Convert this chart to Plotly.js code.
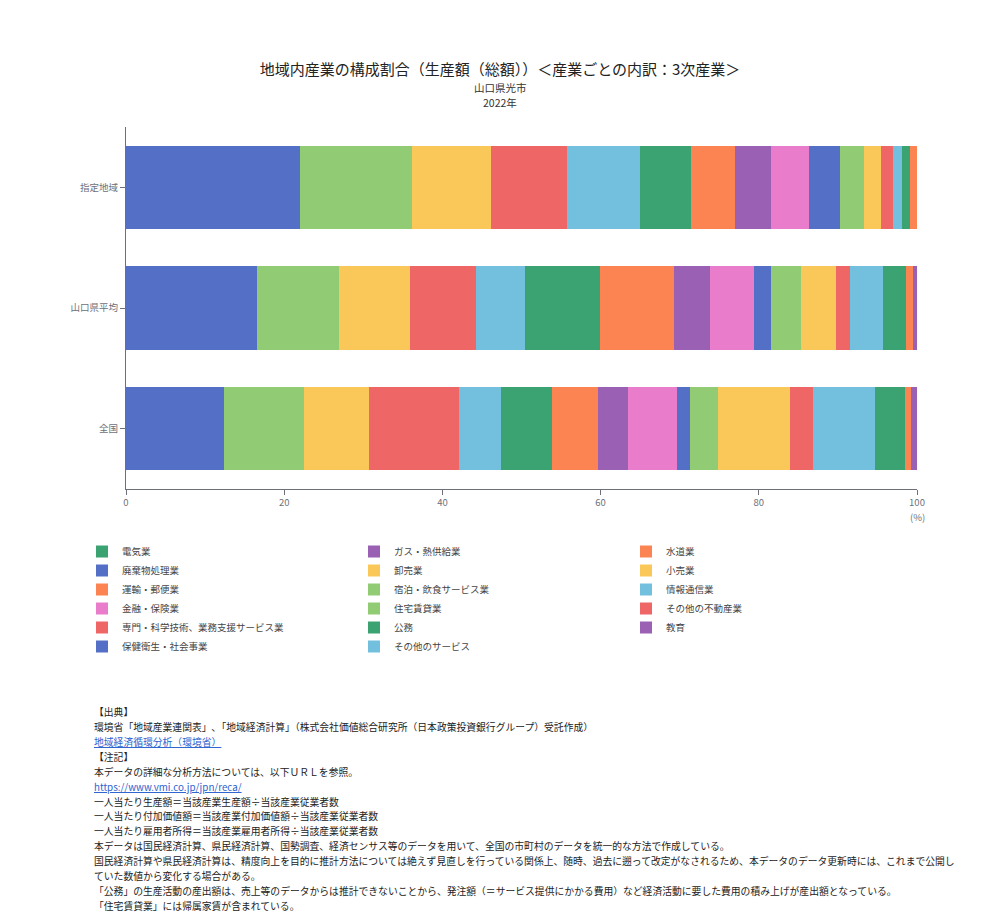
<!DOCTYPE html>
<html>
<head>
<meta charset="utf-8">
<script src="https://cdn.plot.ly/plotly-3.0.1.min.js"></script>
<style>html,body{margin:0;padding:0;background:#fff;}#chart{width:1000px;height:919px;}</style>
</head>
<body>
<div id="chart"></div>
<script>
// ---- data ----
const regions = ['指定地域', '山口県平均', '全国'];
// stacking order (left to right)
const industries = [
  '保健衛生・社会事業', '住宅賃貸業', '小売業', '専門・科学技術、業務支援サービス業',
  'その他のサービス', '公務', '運輸・郵便業', '教育', '金融・保険業', '廃棄物処理業',
  '宿泊・飲食サービス業', '卸売業', 'その他の不動産業', '情報通信業', '電気業', '水道業',
  'ガス・熱供給業'
];
// legend order
const legendOrder = [
  '電気業', 'ガス・熱供給業', '水道業', '廃棄物処理業', '卸売業', '小売業',
  '運輸・郵便業', '宿泊・飲食サービス業', '情報通信業', '金融・保険業', '住宅賃貸業',
  'その他の不動産業', '専門・科学技術、業務支援サービス業', '公務', '教育',
  '保健衛生・社会事業', 'その他のサービス'
];
// percent values, per industry in stacking order
const shiteiValues    = [21.96, 14.16, 9.99, 9.64, 9.23, 6.45, 5.52, 4.63, 4.77, 3.88, 3.07, 2.15, 1.55, 1.14, 0.94, 0.92, 0.00];
const yamaguchiValues = [16.60, 10.29, 8.98, 8.38, 6.19, 9.48, 9.32, 4.59, 5.60, 2.11, 3.83, 4.35, 1.77, 4.17, 2.91, 0.89, 0.54];
const zenkokuValues   = [12.35, 10.12, 8.21, 11.46, 5.23, 6.52, 5.78, 3.76, 6.27, 1.56, 3.54, 9.18, 2.87, 7.84, 3.83, 0.68, 0.80];
const xTicks = [0, 20, 40, 60, 80, 100];

const titleText = '地域内産業の構成割合（生産額（総額））＜産業ごとの内訳：3次産業＞';
const subtitleLines = ['山口県光市', '2022年'];
const noteLines = [
  '【出典】',
  '環境省「地域産業連関表」､「地域経済計算」（株式会社価値総合研究所（日本政策投資銀行グループ）受託作成）',
  '<a href="https://www.env.go.jp/policy/circulation/"><span style="color:#2b63d0"><u>地域経済循環分析（環境省）</u></span></a>',
  '【注記】',
  '本データの詳細な分析方法については、以下ＵＲＬを参照。',
  '<a href="https://www.vmi.co.jp/jpn/reca/"><span style="color:#2b63d0"><u>https://www.vmi.co.jp/jpn/reca/</u></span></a>',
  '一人当たり生産額＝当該産業生産額÷当該産業従業者数',
  '一人当たり付加価値額＝当該産業付加価値額÷当該産業従業者数',
  '一人当たり雇用者所得＝当該産業雇用者所得÷当該産業従業者数',
  '本データは国民経済計算、県民経済計算、国勢調査、経済センサス等のデータを用いて、全国の市町村のデータを統一的な方法で作成している。',
  '国民経済計算や県民経済計算は、精度向上を目的に推計方法については絶えず見直しを行っている関係上、随時、過去に遡って改定がなされるため、本データのデータ更新時には、これまで公開し',
  'ていた数値から変化する場合がある。',
  '「公務」の生産活動の産出額は、売上等のデータからは推計できないことから、発注額（＝サービス提供にかかる費用）など経済活動に要した費用の積み上げが産出額となっている。',
  '「住宅賃貸業」には帰属家賃が含まれている。'
];

// ---- style ----
const palette = ['#5470c6', '#91cc75', '#fac858', '#ee6666', '#73c0de', '#3ba272', '#fc8452', '#9a60b4', '#ea7ccc'];
const FONT = '"Noto Sans CJK JP", "Noto Sans", sans-serif';
const axisColor = '#6e7079';

const W = 1000, H = 919;
const M = {l: 126, r: 83, t: 127, b: 430};
const plotH = H - M.t - M.b;
const plotW = W - M.l - M.r;
const pyFromPx = px => (H - M.b - px) / plotH;
const pxToPaperX = px => (px - M.l) / plotW;

const traces = industries.map((name, i) => ({
  type: 'bar',
  orientation: 'h',
  name: name,
  y: regions,
  x: [shiteiValues[i], yamaguchiValues[i], zenkokuValues[i]],
  marker: {color: palette[i % palette.length], line: {width: 0}},
  legendrank: legendOrder.indexOf(name) + 1,
  hoverinfo: 'skip'
}));

const annotations = [];
subtitleLines.forEach((t, i) => {
  annotations.push({
    text: t, xref: 'paper', yref: 'paper', x: pxToPaperX(500), y: pyFromPx(87 + i * 15),
    xanchor: 'center', yanchor: 'middle', showarrow: false,
    font: {family: FONT, size: 10.5, color: '#333'}
  });
});
annotations.push({
  text: '(%)', xref: 'x', yref: 'paper', x: 100, y: pyFromPx(517),
  xanchor: 'center', yanchor: 'middle', showarrow: false,
  font: {family: FONT, size: 9.5, color: axisColor}
});
noteLines.forEach((t, i) => {
  annotations.push({
    text: t, xref: 'paper', yref: 'paper', x: pxToPaperX(92), y: pyFromPx(712 + i * 14.92),
    xanchor: 'left', yanchor: 'middle', showarrow: false, align: 'left',
    font: {family: FONT, size: 9.8, color: '#222'}
  });
});

const layout = {
  width: W, height: H,
  margin: M,
  paper_bgcolor: '#fff', plot_bgcolor: '#fff',
  font: {family: FONT, color: '#333'},
  title: {
    text: titleText, xref: 'container', yref: 'container', x: 0.5, y: 1 - 70 / H,
    xanchor: 'center', yanchor: 'middle',
    font: {family: FONT, size: 15, color: '#222'}
  },
  barmode: 'stack',
  bargap: 0.31,
  xaxis: {
    range: [0, 100], tickvals: xTicks, showgrid: false, zeroline: false,
    showline: true, linecolor: axisColor, linewidth: 1,
    ticks: 'outside', ticklen: 5, tickcolor: axisColor,
    tickfont: {family: FONT, size: 9.5, color: axisColor}
  },
  yaxis: {
    type: 'category', categoryorder: 'array', categoryarray: regions, autorange: 'reversed',
    showgrid: false, zeroline: false, showline: true, linecolor: axisColor, linewidth: 1,
    ticks: 'outside', ticklen: 5, tickcolor: axisColor,
    tickfont: {family: FONT, size: 9.5, color: axisColor}
  },
  showlegend: true,
  legend: {
    orientation: 'h', traceorder: 'normal',
    x: pxToPaperX(82), xanchor: 'left', y: pyFromPx(537), yanchor: 'top',
    entrywidth: 227, entrywidthmode: 'pixels',
    font: {family: FONT, size: 9.5, color: '#444'},
    bgcolor: 'rgba(0,0,0,0)'
  },
  annotations: annotations
};

Plotly.newPlot('chart', traces, layout, {staticPlot: true, displayModeBar: false});
</script>
</body>
</html>
